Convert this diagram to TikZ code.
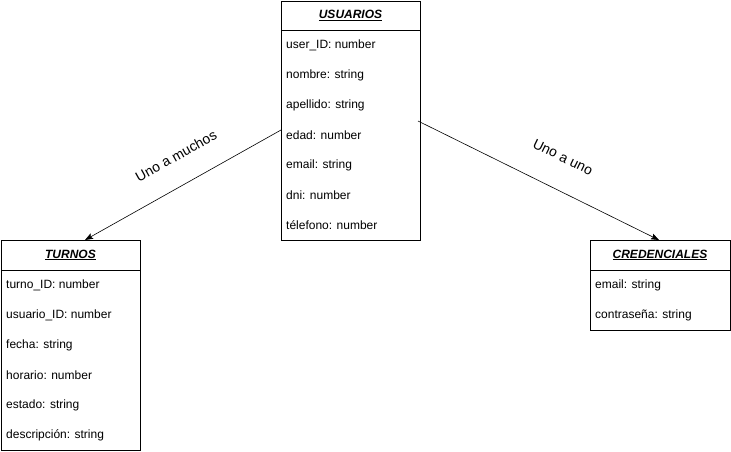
\documentclass[tikz,border=0pt]{standalone}
\usepackage{fontspec}
\setmainfont{Liberation Sans}
\usetikzlibrary{calc, arrows.meta}
\tikzset{tabla/.style={draw, line width=0.8pt, anchor=north west, inner sep=0pt},
  titulo/.style={font=\fontsize{12}{14}\selectfont\bfseries\itshape},
  campo/.style={anchor=west, inner sep=0pt, font=\fontsize{12}{14}\selectfont},
  relacion/.style={line width=0.6pt, -{Stealth[length=8pt, width=6pt, inset=1.5pt]}},
  etiqueta/.style={font=\fontsize{14}{16}\selectfont}}

\begin{document}
\begin{tikzpicture}[x=1pt, y=-1pt]
      \useasboundingbox (0,0) rectangle (731,451);
      % Tablas
      \node[tabla, minimum width=139pt, minimum height=239pt] (usuarios) at (281,1) {};
      \node[tabla, minimum width=139pt, minimum height=210pt] (turnos) at (1,240) {};
      \node[tabla, minimum width=140pt, minimum height=90pt] (credenciales) at (590,240) {};
      \draw[line width=0.8pt] ($(usuarios.north west)+(0,29)$) -- ($(usuarios.north east)+(0,29)$);
      \draw[line width=0.8pt] ($(turnos.north west)+(0,30)$) -- ($(turnos.north east)+(0,30)$);
      \draw[line width=0.8pt] ($(credenciales.north west)+(0,30)$) -- ($(credenciales.north east)+(0,30)$);
      \node[titulo] (usuariosT) at (350.5,15.5) {\underline{USUARIOS}};
      \node[titulo] (turnosT) at (70.5,255) {\underline{TURNOS}};
      \node[titulo] (credencialesT) at (660,255) {\underline{CREDENCIALES}};
      % Campos
      \foreach \t [count=\i] in {user\_ID: number, nombre: string, apellido: string,
          edad: number, email: string, dni: number, télefono: number}
          \node[campo] (usuarios\i) at (286,15+30*\i) {\t};
      \foreach \t [count=\i] in {turno\_ID: number, usuario\_ID: number, fecha: string,
          horario: number, estado: string, descripción: string}
          \node[campo] (turnos\i) at (6,255+30*\i) {\t};
      \foreach \t [count=\i] in {email: string, contraseña: string}
          \node[campo] (credenciales\i) at (595,255+30*\i) {\t};
      % Relaciones
      \coordinate (salidaT) at (281,130);
      \coordinate (llegadaT) at (85,240);
      \coordinate (salidaC) at (418,121);
      \coordinate (llegadaC) at (659,240);
      \draw[relacion] (salidaT) -- (llegadaT);
      \draw[relacion] (salidaC) -- (llegadaC);
      \node[etiqueta, rotate=29] (unoMuchos) at (176,156) {Uno a muchos};
      \node[etiqueta, rotate=-26] (unoUno) at (563,157) {Uno a uno};
\end{tikzpicture}
\end{document}
